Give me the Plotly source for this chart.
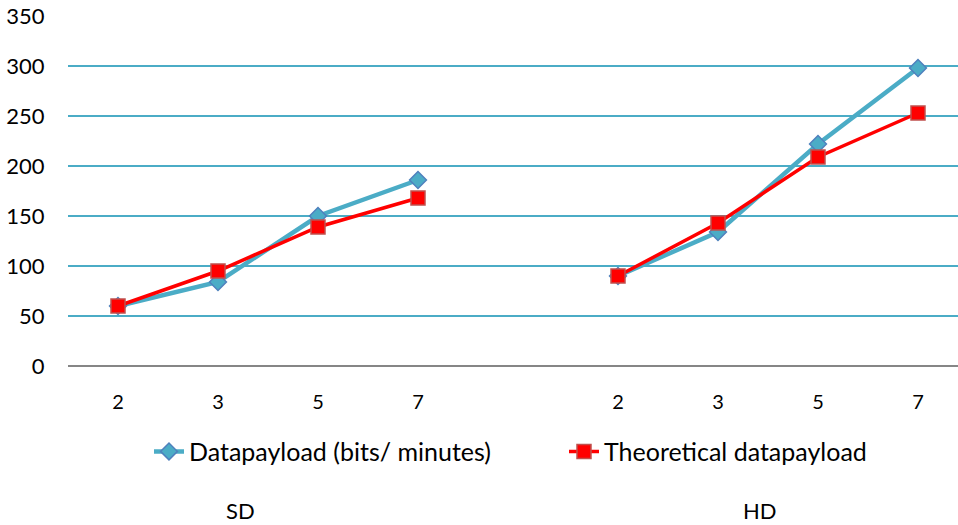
import plotly.graph_objects as go

categories = ["SD-2", "SD-3", "SD-5", "SD-7", "gap", "HD-2", "HD-3", "HD-5", "HD-7"]
tick_labels = ["2", "3", "5", "7", "", "2", "3", "5", "7"]
group_labels = ["SD", "HD"]

sd_cats = ["SD-2", "SD-3", "SD-5", "SD-7"]
hd_cats = ["HD-2", "HD-3", "HD-5", "HD-7"]

datapayload_sd = [60, 84, 150, 186]
datapayload_hd = [90, 134, 222, 298]
theoretical_sd = [60, 95, 139, 168]
theoretical_hd = [90, 143, 209, 253]

FONT = "Lato"
BLUE = "#4BACC6"
BLUE_EDGE = "#4F81BD"
RED = "#FF0000"
RED_EDGE = "#C0504D"

fig = go.Figure()

fig.add_trace(go.Scatter(
    x=sd_cats + [None] + hd_cats,
    y=datapayload_sd + [None] + datapayload_hd,
    mode="lines+markers",
    name="Datapayload (bits/ minutes)",
    line=dict(color=BLUE, width=4.5),
    marker=dict(symbol="diamond", size=13, color=BLUE, line=dict(color=BLUE_EDGE, width=1.5)),
    connectgaps=False,
    legend="legend",
))
fig.add_trace(go.Scatter(
    x=sd_cats + [None] + hd_cats,
    y=theoretical_sd + [None] + theoretical_hd,
    mode="lines+markers",
    name="Theoretical datapayload",
    line=dict(color=RED, width=3.5),
    marker=dict(symbol="square", size=14, color=RED, line=dict(color=RED_EDGE, width=1.5)),
    connectgaps=False,
    legend="legend2",
))

legend_common = dict(
    orientation="h",
    xanchor="left",
    y=-0.179, yanchor="top",
    font=dict(family=FONT, size=25, color="#000000"),
    itemwidth=30,
    bgcolor="rgba(0,0,0,0)",
)

fig.update_layout(
    width=958, height=525,
    margin=dict(l=68, r=0, t=16, b=159),
    paper_bgcolor="white", plot_bgcolor="white",
    font=dict(family=FONT, size=20, color="#000000"),
    showlegend=True,
    legend=dict(x=(149 - 68) / 890, **legend_common),
    legend2=dict(x=(564 - 68) / 890, **legend_common),
    xaxis=dict(
        type="category",
        categoryorder="array", categoryarray=categories,
        tickvals=categories, ticktext=tick_labels,
        range=[-0.5, 8.4],
        showgrid=False, zeroline=False,
        showline=False, automargin=False,
        ticks="outside", ticklen=18, tickcolor="rgba(0,0,0,0)",
        tickfont=dict(family=FONT, size=20),
    ),
    yaxis=dict(
        range=[0, 350],
        tickvals=[0, 50, 100, 150, 200, 250, 300, 350],
        showgrid=True, gridcolor=BLUE, gridwidth=1.5,
        zeroline=True, zerolinecolor="#868686", zerolinewidth=1.5,
        showline=False, automargin=False,
        ticks="outside", ticklen=18, tickcolor="rgba(0,0,0,0)",
        tickfont=dict(family=FONT, size=22),
    ),
)

fig.add_annotation(text=group_labels[0], xref="paper", yref="paper",
                   x=(240 - 68) / 890, y=-144 / 350, showarrow=False,
                   xanchor="center", yanchor="middle", font=dict(family=FONT, size=22))
fig.add_annotation(text=group_labels[1], xref="paper", yref="paper",
                   x=(760 - 68) / 890, y=-144 / 350, showarrow=False,
                   xanchor="center", yanchor="middle", font=dict(family=FONT, size=22))

fig.write_html("out.html", config={"displayModeBar": False},
               post_script="document.body.style.margin='0';document.body.style.padding='0';")
